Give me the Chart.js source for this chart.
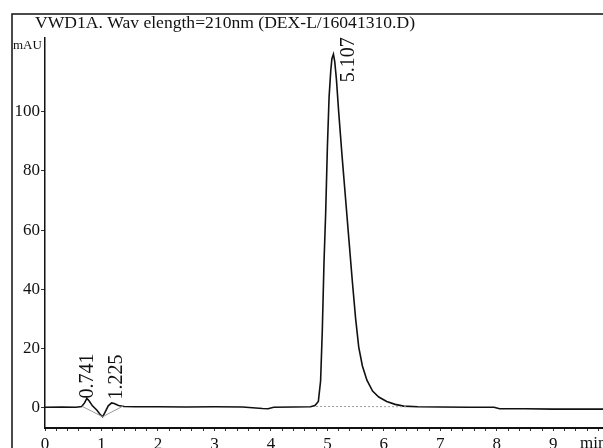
<!DOCTYPE html>
<html>
<head>
<meta charset="utf-8">
<script src="https://cdn.jsdelivr.net/npm/chart.js@4.4.1/dist/chart.umd.min.js"></script>
<style>
  html, body { margin: 0; padding: 0; background: #fff; }
  #wrap { width: 603px; height: 448px; position: relative; }
  canvas { display: block; }
</style>
</head>
<body>
<div id="wrap"><canvas id="c" width="603" height="448"></canvas></div>
<script>
// ---- data ----
const titleText = "VWD1A. Wav elength=210nm (DEX-L/16041310.D)";
const yUnit = "mAU";
const xUnit = "min";

const times = [0.00,0.30,0.55,0.65,0.70,0.741,0.78,0.84,0.92,0.98,1.02,1.06,1.12,1.18,1.225,1.30,1.40,1.60,2.00,2.50,3.00,3.50,3.85,3.95,4.05,4.40,4.70,4.78,4.84,4.88,4.91,4.94,4.97,5.00,5.03,5.06,5.08,5.107,5.13,5.16,5.20,5.26,5.32,5.38,5.44,5.50,5.555,5.62,5.70,5.80,5.91,6.05,6.20,6.35,6.60,7.00,7.50,7.95,8.05,8.50,9.00,9.50,9.88];
const signal = [0.0,0.1,0.0,0.3,1.5,3.0,2.2,0.5,-1.0,-2.5,-3.2,-1.8,0.5,1.5,1.3,0.6,0.3,0.2,0.2,0.1,0.2,0.1,-0.4,-0.5,0.0,0.1,0.2,0.6,2.0,9.0,26,49,66,88,105,114,118,119.5,117,111,100,85,71,57,43,30,20.4,14,9.2,5.5,3.5,2.0,1.0,0.4,0.2,0.1,0.0,0.0,-0.5,-0.5,-0.6,-0.6,-0.6];

// integration baselines (grey)
const baseATimes = [0.66, 1.02];
const baseAValues = [0.3, -3.2];
const baseBTimes = [1.02, 1.38];
const baseBValues = [-3.2, 0.4];
const baseCTimes = [4.80, 6.40];
const baseCValues = [0.3, 0.2];

const peakTimes = [0.741, 1.225, 5.107];
const peakLabels = ["0.741", "1.225", "5.107"];

const xTickValues = [0,1,2,3,4,5,6,7,8,9];
const yTickValues = [0,20,40,60,80,100];
const xRange = [0, 9.88];
const yRange = [-7, 125];

// ---- styling / layout (not data) ----
const SERIF = '"Liberation Serif", "Times New Roman", serif';
const labelOffsets = [ {dx: 1, dy: 0}, {dx: 3, dy: -4}, {dx: 15, dy: 28} ];

const pts = (ts, vs) => ts.map((t, i) => ({x: t, y: vs[i]}));

const decor = {
  id: 'decor',
  afterDraw(chart) {
    const ctx = chart.ctx;
    const xs = chart.scales.x, ys = chart.scales.y;
    ctx.save();
    // outer frame (left + top)
    ctx.strokeStyle = '#111';
    ctx.lineWidth = 1.5;
    ctx.beginPath();
    ctx.moveTo(12, 448);
    ctx.lineTo(12, 14);
    ctx.lineTo(603, 14);
    ctx.stroke();
    // title
    ctx.fillStyle = '#111';
    ctx.font = '17px ' + SERIF;
    ctx.textBaseline = 'alphabetic';
    ctx.textAlign = 'left';
    const tw = ctx.measureText(titleText).width;
    ctx.save();
    ctx.translate(35, 28);
    ctx.scale(380 / tw, 1);
    ctx.fillText(titleText, 0, 0);
    ctx.restore();
    // y unit
    ctx.font = '13px ' + SERIF;
    ctx.fillText(yUnit, 13, 49);
    // x unit
    ctx.font = '17px ' + SERIF;
    ctx.textBaseline = 'top';
    ctx.fillText(xUnit, 580, 435);
    // peak labels (rotated)
    ctx.font = '20px ' + SERIF;
    ctx.textBaseline = 'middle';
    ctx.textAlign = 'left';
    peakTimes.forEach((t, i) => {
      let v = 0;
      for (let k = 0; k < times.length - 1; k++) {
        if (t >= times[k] && t <= times[k+1]) {
          const f = (t - times[k]) / (times[k+1] - times[k]);
          v = signal[k] + f * (signal[k+1] - signal[k]);
          break;
        }
      }
      const px = xs.getPixelForValue(t) + labelOffsets[i].dx;
      const py = ys.getPixelForValue(v) + labelOffsets[i].dy;
      ctx.save();
      ctx.translate(px, py);
      ctx.rotate(-Math.PI / 2);
      ctx.fillText(peakLabels[i], 0, 0);
      ctx.restore();
    });
    ctx.restore();
  }
};

new Chart(document.getElementById('c'), {
  type: 'line',
  data: {
    datasets: [
      { data: pts(baseATimes, baseAValues), borderColor: '#9a9a9a', borderWidth: 1, pointRadius: 0 },
      { data: pts(baseBTimes, baseBValues), borderColor: '#9a9a9a', borderWidth: 1, pointRadius: 0 },
      { data: pts(baseCTimes, baseCValues), borderColor: '#9a9a9a', borderWidth: 1, pointRadius: 0, borderDash: [2, 2] },
      { data: pts(times, signal), borderColor: '#111', borderWidth: 1.6, pointRadius: 0, tension: 0 }
    ]
  },
  options: {
    responsive: false,
    animation: false,
    devicePixelRatio: 1,
    layout: { padding: { top: 38, left: 12, right: 0, bottom: 0 } },
    plugins: { legend: { display: false }, tooltip: { enabled: false }, title: { display: false } },
    scales: {
      x: {
        type: 'linear',
        min: xRange[0], max: xRange[1],
        afterFit(s) { s.height = 20; },
        afterBuildTicks(s) {
          const t = [];
          for (let k = 0; k <= 49; k++) t.push({ value: Math.round(k * 2) / 10 });
          s.ticks = t;
        },
        ticks: {
          autoSkip: false, maxRotation: 0, minRotation: 0, padding: 3,
          color: '#111', font: { family: SERIF, size: 17 },
          callback(v) { return xTickValues.includes(v) ? String(v) : ''; }
        },
        grid: { drawOnChartArea: false, drawTicks: true, tickLength: 3, color: '#333', lineWidth: 1 },
        border: { display: true, color: '#111', width: 2 }
      },
      y: {
        type: 'linear',
        min: yRange[0], max: yRange[1],
        afterFit(s) { s.width = 33; },
        afterBuildTicks(s) { s.ticks = yTickValues.map(v => ({ value: v })); },
        ticks: {
          padding: 1, color: '#111', font: { family: SERIF, size: 17 },
          callback(v) { return String(v); }
        },
        grid: { drawOnChartArea: false, drawTicks: true, tickLength: 4, color: '#333', lineWidth: 1 },
        border: { display: true, color: '#111', width: 1.5 }
      }
    }
  },
  plugins: [decor]
});
</script>
</body>
</html>
